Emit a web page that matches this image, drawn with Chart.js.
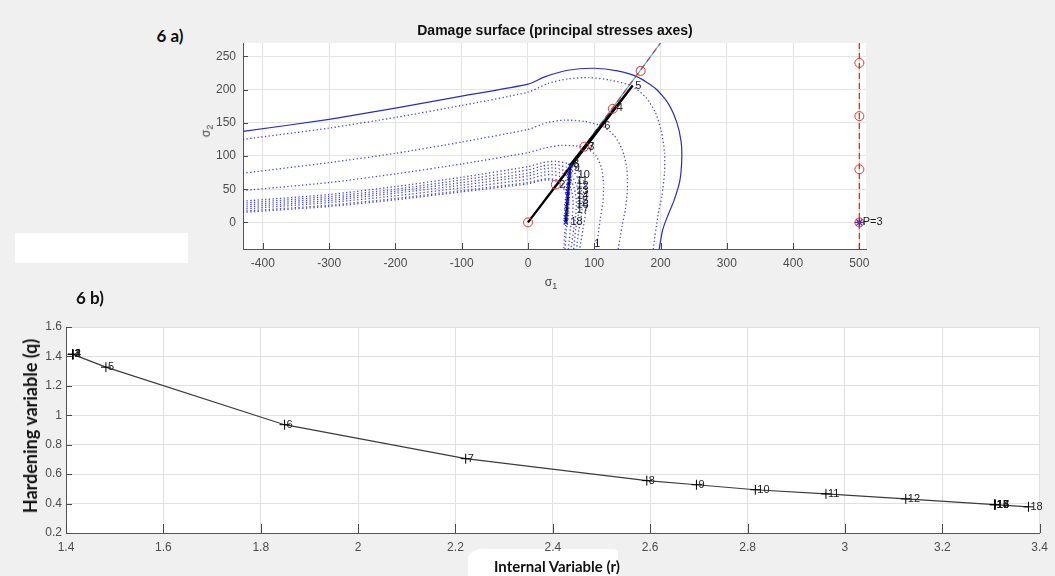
<!DOCTYPE html>
<html>
<head>
<meta charset="utf-8">
<script src="https://cdn.jsdelivr.net/npm/chart.js@4.4.0/dist/chart.umd.min.js"></script>
<style>
  body { margin: 0; width: 1055px; height: 576px; background: #f0f0f0; position: relative; overflow: hidden; font-family: "Liberation Sans", Arial, sans-serif; }
  .caja { position: absolute; }
  .txt { position: absolute; white-space: nowrap; transform: translate(-50%, -50%); }
  .negrita { font-family: Lato, "Open Sans", sans-serif; font-weight: 700; color: #111; }
</style>
</head>
<body>
<div class="caja" style="left:15px;top:233px;width:173px;height:30px;background:#fff;"></div>
<div class="caja" style="left:468px;top:549px;width:150px;height:27px;background:#fff;border-radius:14px 5px 0 0 / 10px 4px 0 0;"></div>

<div class="caja" style="left:200px;top:15px;width:700px;height:280px;"><canvas id="grafico-a" width="700" height="280"></canvas></div>
<div class="caja" style="left:0;top:300px;width:1055px;height:276px;"><canvas id="grafico-b" width="1055" height="276"></canvas></div>

<div class="txt negrita" style="left:170px;top:35px;font-size:17px;">6 a)</div>
<div class="txt" style="left:555px;top:30px;font-size:14px;font-weight:700;color:#111;">Damage surface (principal stresses axes)</div>
<div class="txt" style="left:207px;top:131px;font-size:12px;color:#444;transform:translate(-50%,-50%) rotate(-90deg);">σ<sub style="font-size:9px;">2</sub></div>
<div class="txt" style="left:551px;top:283px;font-size:12px;color:#444;">σ<sub style="font-size:9px;">1</sub></div>
<div class="txt negrita" style="left:90px;top:297px;font-size:17px;">6 b)</div>
<div class="txt negrita" style="left:30px;top:426px;font-size:18px;transform:translate(-50%,-50%) rotate(-90deg);">Hardening variable (q)</div>
<div class="txt negrita" style="left:557px;top:566px;font-size:15px;">Internal Variable (r)</div>

<script>
// ---------- 6 a) superficies de daño en ejes de tensiones principales ----------
const ticksSigma1 = [-400, -300, -200, -100, 0, 100, 200, 300, 400, 500];
const ticksSigma2 = [0, 50, 100, 150, 200, 250];

// superficie inicial (pasos 1-4), trazo continuo
const superficieInicial = [[-430,137],[-300,155],[-200,172],[-100,190],[0,208],[25,219],[60,229],[100,232],[135,228],[165,219],[192,202],[211,180],[224,152],[231,122],[232,95],[229,62],[220,32],[210,8],[203,-12],[198,-40]];
// superficies en cada paso de descarga (punteadas)
const superficiePaso5 = [[-430,125],[-300,142],[-200,158],[-100,176],[0,196],[30,209],[60,216],[92,218],[125,214],[157,205],[178,188],[192,166],[201,138],[206,105],[206,75],[202,40],[196,10],[189,-40]];
const superficiePaso6 = [[-430,74],[-300,90],[-200,104],[-100,121],[0,140],[28,150],[55,154],[85,152],[112,145],[130,131],[142,110],[149,82],[150,50],[147,20],[142,-5],[136,-40]];
const superficiePaso7 = [[-430,48],[-300,60],[-200,73],[-100,88],[0,105],[25,112],[50,116],[73,115],[88,112],[102,101],[111,82],[114,58],[113,30],[109,5],[103,-40]];
const superficiePaso8 = [[-430,32],[-300,42],[-200,54],[-100,68],[0,84],[22,90],[42,92],[62,88],[75,79],[84,62],[88,40],[87,15],[83,-10],[78,-40]];
const superficiePaso9 = [[-430,29],[-300,39],[-200,50],[-100,64],[0,79],[22,85],[40,87],[58,83],[70,75],[79,58],[82,37],[81,13],[77,-10],[73,-40]];
const superficiePaso10 = [[-430,26],[-300,36],[-200,47],[-100,60],[0,74],[20,80],[38,82],[55,78],[66,70],[74,54],[77,34],[76,12],[72,-10],[69,-40]];
const superficiePaso11 = [[-430,23],[-300,33],[-200,44],[-100,56],[0,70],[20,75],[36,77],[52,74],[63,66],[70,51],[73,32],[72,11],[69,-10],[65,-40]];
const superficiePaso12 = [[-430,20],[-300,30],[-200,40],[-100,52],[0,65],[18,70],[34,72],[49,69],[59,61],[66,47],[68,30],[67,10],[64,-10],[61,-40]];
const superficiePaso13 = [[-430,17],[-300,26],[-200,36],[-100,48],[0,60],[17,64],[31,66],[45,63],[54,56],[60,43],[62,27],[61,9],[58,-10],[56,-40]];
const superficiePaso18 = [[-430,15],[-300,24],[-200,34],[-100,46],[0,58],[16,62],[30,64],[43,61],[52,54],[58,41],[60,26],[59,8],[56,-10],[54,-40]];

// trayectoria de tensiones y rectas de carga
const trayectoria = [[0,0],[158,206],[64,87],[57,0]];
const rectaCarga = [[0,0],[200,270]];
const rectaVertical = [[500,-40],[500,270]];
const cargaS1 = [0, 42, 85, 128, 170, 500, 500, 500, 500];
const cargaS2 = [0, 57, 114, 171, 228, 0, 80, 160, 240];
const subpasoS1 = [64, 63, 62, 62, 61, 60, 60, 59, 58, 58, 57, 57];
const subpasoS2 = [85, 77, 70, 62, 55, 47, 40, 32, 24, 16, 8, 0];

// etiquetas de paso
const etiquetaTexto = ['2','3','7','4','5','6','8','9','10','11','12','13','14','15','16','17','18','1','P=3'];
const etiquetaS1 = [44, 88, 88, 131, 159, 112, 65, 66, 72, 70, 70, 70, 70, 70, 70, 70, 61, 97, 502];
const etiquetaS2 = [57, 114, 114, 172, 206, 145, 88, 82, 71, 62, 55, 47, 40, 33, 26, 18, 0, -32, 0];

// ---------- 6 b) variable de endurecimiento ----------
const ticksR = [1.4, 1.6, 1.8, 2, 2.2, 2.4, 2.6, 2.8, 3, 3.2, 3.4];
const ticksQ = [0.2, 0.4, 0.6, 0.8, 1, 1.2, 1.4, 1.6];
const pasos = ['1','2','3','4','5','6','7','8','9','10','11','12','13','14','15','16','17','18'];
const variableInterna = [1.414, 1.414, 1.414, 1.414, 1.482, 1.849, 2.221, 2.593, 2.695, 2.816, 2.961, 3.125, 3.308, 3.308, 3.308, 3.308, 3.308, 3.377];
const variableEndurecimiento = [1.414, 1.414, 1.414, 1.414, 1.327, 0.936, 0.705, 0.556, 0.528, 0.494, 0.466, 0.432, 0.393, 0.393, 0.393, 0.393, 0.393, 0.378];

const xy = pts => pts.map(([x, y]) => ({ x, y }));
const pares = (xs, ys) => xs.map((x, i) => ({ x, y: ys[i] }));
const fuente = '"Liberation Sans", Arial, sans-serif';

const fondoBlanco = {
  id: 'fondoBlanco',
  beforeDraw(chart) {
    const { ctx, chartArea: a } = chart;
    ctx.save();
    ctx.fillStyle = '#fff';
    ctx.fillRect(a.left, a.top, a.width, a.height);
    ctx.restore();
  }
};

// marcas de eje hacia dentro, al estilo MATLAB
function marcasInternas(largoX, largoY) {
  return {
    id: 'marcasInternas',
    afterDraw(chart) {
      const { ctx, chartArea: a, scales: { x, y } } = chart;
      ctx.save();
      ctx.strokeStyle = '#4a4a4a';
      ctx.lineWidth = 1;
      ctx.beginPath();
      x.ticks.forEach(t => {
        const px = Math.round(x.getPixelForValue(t.value)) + 0.5;
        ctx.moveTo(px, a.bottom);
        ctx.lineTo(px, a.bottom - largoX);
      });
      y.ticks.forEach(t => {
        const py = Math.round(y.getPixelForValue(t.value)) + 0.5;
        ctx.moveTo(a.left, py);
        ctx.lineTo(a.left + largoY, py);
      });
      ctx.stroke();
      ctx.restore();
    }
  };
}

function etiquetas(textos, xs, ys, tam) {
  return {
    id: 'etiquetas',
    afterDatasetsDraw(chart) {
      const { ctx, scales: { x, y } } = chart;
      ctx.save();
      ctx.font = `${tam}px ${fuente}`;
      ctx.fillStyle = '#1a1a1a';
      ctx.textAlign = 'left';
      ctx.textBaseline = 'middle';
      textos.forEach((t, i) => {
        ctx.fillText(t, x.getPixelForValue(xs[i]) + 2, y.getPixelForValue(ys[i]));
      });
      ctx.restore();
    }
  };
}

function superficie(pts, punteada) {
  return {
    data: xy(pts),
    showLine: true,
    pointRadius: 0,
    borderColor: punteada ? 'rgba(40,40,215,0.85)' : '#2b2bc6',
    borderWidth: punteada ? 1.3 : 1.2,
    borderDash: punteada ? [1.3, 2.4] : [],
    tension: 0.22,
    order: 6
  };
}

function ejes(min, max, ticks, tam, padding, afterFit, rejilla) {
  return {
    type: 'linear',
    min, max,
    afterBuildTicks: s => { s.ticks = ticks.map(v => ({ value: v })); },
    afterFit,
    ticks: { color: '#4d4d4d', font: { size: tam, family: fuente }, padding, maxRotation: 0, autoSkip: false, callback: v => String(v) },
    grid: { color: rejilla, drawTicks: false },
    border: { color: '#555', width: 1 }
  };
}

new Chart(document.getElementById('grafico-a'), {
  type: 'scatter',
  data: {
    datasets: [
      { data: pares(cargaS1, cargaS2), pointStyle: 'circle', pointRadius: 4.5, pointBorderColor: '#e03a3a', pointBackgroundColor: 'rgba(0,0,0,0)', pointBorderWidth: 1, order: 0 },
      { data: pares(subpasoS1, subpasoS2), pointStyle: 'crossRot', pointRadius: 3, pointBorderColor: '#2020d0', pointBorderWidth: 1.2, order: 0 },
      { data: [{ x: 500, y: 0 }], pointStyle: 'star', pointRadius: 4.5, pointBorderColor: '#5a2aa0', pointBorderWidth: 1.3, order: 0 },
      { data: xy(trayectoria), showLine: true, pointRadius: 0, borderColor: '#000', borderWidth: 2.3, tension: 0, order: 1 },
      { data: xy(rectaCarga), showLine: true, pointRadius: 0, borderColor: '#e03030', borderWidth: 1.2, borderDash: [6, 4], tension: 0, order: 2 },
      { data: xy(rectaCarga), showLine: true, pointRadius: 0, borderColor: '#4fb4d6', borderWidth: 1.2, tension: 0, order: 3 },
      { data: xy(rectaVertical), showLine: true, pointRadius: 0, borderColor: '#e03030', borderWidth: 1.3, borderDash: [6, 4], tension: 0, order: 2 },
      { data: xy(rectaVertical), showLine: true, pointRadius: 0, borderColor: '#e6d49a', borderWidth: 1.3, tension: 0, order: 3 },
      superficie(superficieInicial, false),
      superficie(superficiePaso5, true),
      superficie(superficiePaso6, true),
      superficie(superficiePaso7, true),
      superficie(superficiePaso8, true),
      superficie(superficiePaso9, true),
      superficie(superficiePaso10, true),
      superficie(superficiePaso11, true),
      superficie(superficiePaso12, true),
      superficie(superficiePaso13, true),
      superficie(superficiePaso18, true)
    ]
  },
  options: {
    responsive: false,
    animation: false,
    events: [],
    layout: { padding: { left: 0, top: 28, right: 34, bottom: 0 } },
    plugins: { legend: { display: false }, tooltip: { enabled: false } },
    scales: {
      x: ejes(-430, 510, ticksSigma1, 12, 7, s => { s.height = 46; }, '#e4e4e4'),
      y: ejes(-40, 270, ticksSigma2, 12, 7, s => { s.width = 43; }, '#e4e4e4')
    }
  },
  plugins: [fondoBlanco, marcasInternas(6, 5), etiquetas(etiquetaTexto, etiquetaS1, etiquetaS2, 11)]
});

new Chart(document.getElementById('grafico-b'), {
  type: 'scatter',
  data: {
    datasets: [{
      data: pares(variableInterna, variableEndurecimiento),
      showLine: true,
      borderColor: '#3c3c3c',
      borderWidth: 1.2,
      tension: 0,
      pointStyle: 'cross',
      pointRadius: 5,
      pointBorderColor: '#000',
      pointBorderWidth: 1
    }]
  },
  options: {
    responsive: false,
    animation: false,
    events: [],
    layout: { padding: { left: 0, top: 27, right: 11, bottom: 0 } },
    plugins: { legend: { display: false }, tooltip: { enabled: false } },
    scales: {
      x: ejes(1.4, 3.4, ticksR, 12, 7, s => { s.height = 43; }, '#e0e0e0'),
      y: ejes(0.2, 1.6, ticksQ, 12, 4, s => { s.width = 66; }, '#e0e0e0')
    }
  },
  plugins: [fondoBlanco, marcasInternas(9, 6), etiquetas(pasos, variableInterna, variableEndurecimiento, 11)]
});
</script>
</body>
</html>
